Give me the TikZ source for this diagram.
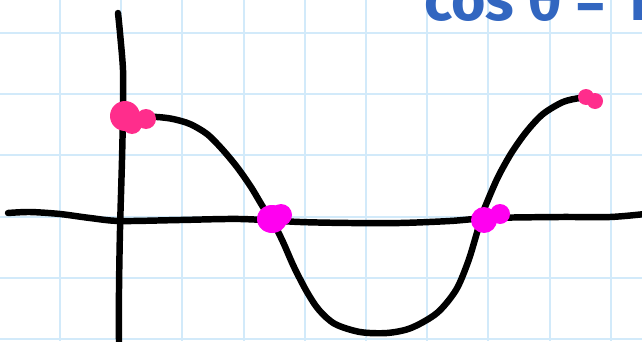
\documentclass[tikz,border=0pt]{standalone}
\usepackage{fontspec}
\newfontfamily\handfont{Fira Sans}
\usepackage{tikz}

\definecolor{gridblue}{RGB}{210,234,250}
\definecolor{penblue}{RGB}{50,102,192}
\definecolor{hotpink}{RGB}{255,45,140}
\definecolor{brightmag}{RGB}{255,0,240}

\tikzset{
  gridline/.style={gridblue, line width=1.3pt},
  penline/.style={black, line width=4.6pt, line cap=round, line join=round},
}

\begin{document}
\begin{tikzpicture}[x=0.025cm, y=-0.025cm]
      % Рамка рисунка (в пикселях)
      \useasboundingbox (0,0) rectangle (642,341);
      \clip (0,0) rectangle (642,341);
      \fill[white] (0,0) rectangle (642,341);

      % Сетка тетради
      \def\cell{61.2}
      \foreach \i in {0,...,10}
        \draw[gridline] ({-1.2+\i*\cell},0) -- ++(0,341);
      \foreach \j in {0,...,5}
        \draw[gridline] (0,{33+\j*\cell}) -- ++(642,0);

      % Подпись
      \node[anchor=base west, inner sep=0pt, text=penblue,
            font=\handfont\bfseries\fontsize{42}{42}\selectfont] (label) at (424,21) {cos θ = 1};

      % Оси
      \draw[penline] plot[smooth, tension=0.5] coordinates {
        (118,13) (120,33) (123,70) (123,110) (122,160) (120,230) (119,290) (119,345)};
      \draw[penline] plot[smooth, tension=0.5] coordinates {
        (8,213) (30,212) (60,214) (90,218) (120,221) (180,220) (240,219)
        (300,222) (350,223) (400,223) (450,221) (490,218) (560,217) (610,217) (645,214)};

      % Косинус
      \draw[penline] plot[smooth, tension=0.5] coordinates {
        (140,117) (157,117) (173,119) (190,124) (207,134) (222,149) (237,167) (251,187)
        (263,207) (273,222) (283,242) (294,267) (307,292) (319,310) (335,324)
        (360,332) (387,333) (411,328) (437,313) (456,290) (468,262) (476,236)
        (482,215) (490,195) (499,175) (512,152) (527,131) (543,114) (563,102)
        (580,98) (590,98)};

      % Точки
      \fill[hotpink] (125,116) circle (15);
      \fill[hotpink] (132,124) circle (10);
      \fill[hotpink] (146,119) circle (10);
      \fill[brightmag] (272,219) ellipse (15 and 14);
      \fill[brightmag] (281,215) circle (11);
      \fill[brightmag] (484,220) circle (13);
      \fill[brightmag] (500,214) circle (10);
      \fill[hotpink] (586,97) circle (8);
      \fill[hotpink] (595,101) circle (8);
\end{tikzpicture}
\end{document}
